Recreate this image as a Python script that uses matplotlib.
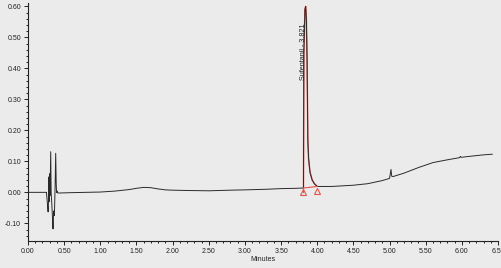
import matplotlib
matplotlib.use("Agg")
import matplotlib.pyplot as plt
import numpy as np
from matplotlib.ticker import MultipleLocator, FormatStrFormatter

plt.rcParams['font.family'] = ['Liberation Sans', 'DejaVu Sans']

# Chromatogram trace (minutes, AU)
time = [0.00, 0.25, 0.255, 0.27, 0.278, 0.285, 0.29, 0.295, 0.30, 0.305, 0.314, 0.32,
        0.33, 0.34, 0.346, 0.355, 0.365, 0.375, 0.383, 0.39, 0.395, 0.40, 0.41, 0.45,
        0.6, 0.8, 1.0, 1.2, 1.4, 1.5, 1.6, 1.7, 1.8, 1.9, 2.0, 2.2, 2.5, 2.8, 3.0,
        3.3, 3.5, 3.7, 3.81, 3.815, 3.83, 3.84, 3.85, 3.86, 3.87, 3.88, 3.90, 3.93,
        3.96, 4.00, 4.2, 4.5, 4.7, 4.9, 5.0, 5.02, 5.03, 5.05, 5.2, 5.4, 5.6, 5.8,
        5.97, 5.98, 5.99, 6.1, 6.3, 6.42]
signal = [0.000, 0.000, 0.000, -0.040, -0.063, -0.020, 0.050, -0.030, 0.060, -0.010, 0.131, 0.000,
          -0.040, -0.090, -0.118, -0.060, -0.075, 0.020, 0.126, 0.030, 0.000, 0.005, -0.002, -0.002,
          -0.001, 0.000, 0.001, 0.004, 0.009, 0.013, 0.016, 0.015, 0.011, 0.008, 0.007, 0.006, 0.005, 0.007, 0.008,
          0.010, 0.012, 0.013, 0.014, 0.450, 0.590, 0.600, 0.560, 0.420, 0.170, 0.110, 0.065, 0.040,
          0.028, 0.019, 0.019, 0.023, 0.028, 0.038, 0.045, 0.074, 0.052, 0.051, 0.062, 0.080, 0.096, 0.105,
          0.112, 0.116, 0.113, 0.116, 0.121, 0.123]

peak_label = "Sufentanil - 3.821"
peak_label_x = 3.81
peak_label_y = 0.455
peak_start, peak_end = 3.81, 4.00
marker_times = [3.80, 4.00]
marker_values = [0.000, 0.005]

xticks = np.arange(0, 6.51, 0.5)
yticks = np.arange(-0.10, 0.601, 0.10)

bg = '#ebebeb'
red = '#e4544a'
fig = plt.figure(figsize=(5.01, 2.68), dpi=100, facecolor=bg)
ax = fig.add_axes([28/501, 27/268, 470/501, 238/268], facecolor=bg)

t = np.array(time)
s = np.array(signal)
mask = (t >= peak_start) & (t <= peak_end)
ax.plot(t[mask], s[mask], color=red, lw=1.0)
ax.plot(t, s, color='#2a2a2a', lw=0.7)
ax.plot(t[mask][1:], s[mask][1:] * 0 + s[mask][1:], color=red, lw=0.0)
ax.plot([peak_start, peak_end], [s[mask][0], s[mask][-1]], color=red, lw=0.8)
ax.plot([peak_start, peak_start], [marker_values[0], s[mask][0]], color=red, lw=0.8)
ax.plot(marker_times, marker_values, linestyle='none', marker='^', markersize=5,
        markerfacecolor='none', markeredgecolor=red, markeredgewidth=0.8)

ax.text(peak_label_x, peak_label_y, peak_label, rotation=90, ha='center', va='center',
        fontsize=5.2, color='#222222')

ax.set_xlim(0, 6.42)
ax.set_ylim(-0.157, 0.611)
ax.set_xticks(xticks)
ax.set_yticks(yticks)
ax.xaxis.set_major_formatter(FormatStrFormatter('%.2f'))
ax.yaxis.set_major_formatter(FormatStrFormatter('%.2f'))
ax.xaxis.set_minor_locator(MultipleLocator(0.1))
ax.yaxis.set_minor_locator(MultipleLocator(0.02))
ax.tick_params(which='major', length=3, width=0.7, labelsize=5, pad=2, colors='#222222')
ax.tick_params(which='minor', length=1.5, width=0.7, colors='#222222')
for side in ['top', 'right']:
    ax.spines[side].set_visible(False)
for side in ['left', 'bottom']:
    ax.spines[side].set_color('#222222')
    ax.spines[side].set_linewidth(0.8)
ax.set_xlabel('Minutes', fontsize=5, labelpad=1, color='#222222')

fig.savefig('out.png', dpi=100, facecolor=bg)
